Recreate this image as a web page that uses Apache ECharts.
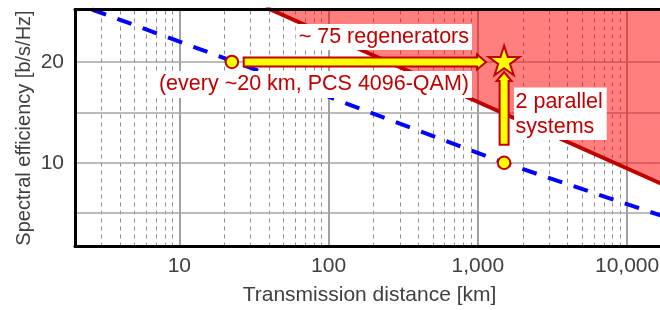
<!DOCTYPE html>
<html>
<head>
<meta charset="utf-8">
<script src="https://cdn.jsdelivr.net/npm/echarts@6.0.0/dist/echarts.min.js"></script>
<style>
  html, body { margin: 0; padding: 0; background: #fff; }
  #chart { width: 660px; height: 310px; }
</style>
</head>
<body>
<div id="chart"></div>
<script>
// distance axis (km, log) and spectral efficiency axis
var xMajor = [10, 100, 1000, 10000];
var xMinorMult = [2, 3, 4, 5, 6, 7, 8, 9];
var xDecades = [1, 10, 100, 1000];
var yGrid = [5, 10, 15, 20];
var yLabels = [10, 20];

// blue dashed capacity curve
var curveKm = [2.6, 22.5, 100, 1500, 20000];
var curveSE = [25.2, 20.1, 16.55, 10, 4.4];

// red boundary of shaded region
var boundKm = [38, 20000];
var boundSE = [25.4, 7.45];

// yellow markers
var dotKm = [22.5, 1500];
var dotSE = [20, 10];
var starKm = [1500];
var starSE = [20];

// arrows: [fromKm, fromSE, toKm, toSE]
var arrowFromKm = [27, 1500];
var arrowFromSE = [20, 11.8];
var arrowToKm = [1135, 1500];
var arrowToSE = [20, 19.0];

var FONT = '"Liberation Sans", Arial, sans-serif';
var DARKRED = '#c00000';

function pairs(a, b) {
  var out = [];
  for (var i = 0; i < a.length; i++) out.push([a[i], b[i]]);
  return out;
}

var gridLines = [];
for (var d = 0; d < xDecades.length; d++) {
  for (var m = 0; m < xMinorMult.length; m++) {
    gridLines.push({ xAxis: xDecades[d] * xMinorMult[m], lineStyle: { color: '#8c8c8c', width: 1, type: [4, 4] } });
  }
}
xMajor.forEach(function (v) {
  gridLines.push({ xAxis: v, lineStyle: { color: '#808080', width: 1.5, type: 'solid' } });
});
yGrid.forEach(function (v) {
  gridLines.push({ yAxis: v, lineStyle: { color: '#a6a6a6', width: 1.5, type: 'solid' } });
});

var arrows = [];
for (var i = 0; i < arrowFromKm.length; i++) {
  arrows.push([arrowFromKm[i], arrowFromSE[i], arrowToKm[i], arrowToSE[i]]);
}

function renderArrow(params, api) {
  var p1 = api.coord([api.value(0), api.value(1)]);
  var p2 = api.coord([api.value(2), api.value(3)]);
  var dx = p2[0] - p1[0], dy = p2[1] - p1[1];
  var len = Math.sqrt(dx * dx + dy * dy);
  var ux = dx / len, uy = dy / len, nx = -uy, ny = ux;
  var hw = 4.5, hh = 7.5, hl = 9;
  var b = len - hl;
  function pt(a, n) { return [p1[0] + ux * a + nx * n, p1[1] + uy * a + ny * n]; }
  return {
    type: 'polygon',
    shape: { points: [pt(0, -hw), pt(b, -hw), pt(b, -hh), pt(len, 0), pt(b, hh), pt(b, hw), pt(0, hw)] },
    style: { fill: '#ffff00', stroke: DARKRED, lineWidth: 2 }
  };
}

var starPath = 'path://M0,-100L22.45,-30.9L95.1,-30.9L36.33,11.8L58.8,80.9L0,38.2L-58.8,80.9L-36.33,11.8L-95.1,-30.9L-22.45,-30.9Z';

var myChart = echarts.init(document.getElementById('chart'));

var option = {
  animation: false,
  grid: { left: 75, right: -12, top: 9.5, bottom: 63.5, containLabel: false, outerBoundsMode: 'none' },
  xAxis: [
    {
      type: 'log', logBase: 10, min: 2, max: 20000, position: 'bottom', z: 10,
      axisLine: { show: true, lineStyle: { color: '#000', width: 3 } },
      axisTick: { show: false },
      splitLine: { show: false },
      axisLabel: {
        showMinLabel: false, showMaxLabel: false, margin: 9,
        color: '#404040', fontSize: 21, fontFamily: FONT,
        formatter: function (v) { return Math.round(v).toLocaleString('en-US'); }
      },
      name: 'Transmission distance [km]', nameLocation: 'middle', nameGap: 38,
      nameTextStyle: { color: '#404040', fontSize: 21, fontFamily: FONT, padding: [0, 8, 0, 0] }
    },
    {
      type: 'log', logBase: 10, min: 2, max: 20000, position: 'top', z: 10,
      axisLine: { show: true, lineStyle: { color: '#000', width: 3 } },
      axisTick: { show: false }, axisLabel: { show: false }, splitLine: { show: false }
    }
  ],
  yAxis: {
    type: 'value', min: 1.7, max: 25.2, z: 10,
    axisLine: { show: true, lineStyle: { color: '#000', width: 3 } },
    axisTick: { show: false, customValues: yLabels },
    splitLine: { show: false },
    axisLabel: { customValues: yLabels, margin: 11, color: '#404040', fontSize: 21, fontFamily: FONT },
    name: 'Spectral efficiency [b/s/Hz]', nameLocation: 'middle', nameGap: 41, nameMoveOverlap: false,
    nameTextStyle: { color: '#404040', fontSize: 20, fontFamily: FONT }
  },
  graphic: [
    { type: 'text', z: 4, x: 472, y: 37,
      style: { text: '~ 75 regenerators', fill: DARKRED, fontSize: 21.5, fontFamily: FONT,
               align: 'right', verticalAlign: 'middle', backgroundColor: '#fff', padding: [4, 3, 0, 3] } },
    { type: 'text', z: 4, x: 472, y: 84.5,
      style: { text: '(every ~20 km, PCS 4096-QAM)', fill: DARKRED, fontSize: 21.5, fontFamily: FONT,
               align: 'right', verticalAlign: 'middle', backgroundColor: '#fff', padding: [3, 3, 2, 5] } },
    { type: 'text', z: 4, x: 514, y: 87.5,
      style: { text: '2 parallel\nsystems', fill: DARKRED, fontSize: 21.5, fontFamily: FONT, lineHeight: 25,
               align: 'left', verticalAlign: 'top', backgroundColor: '#fff', padding: [2.5, 4, 0, 1.5] } }
  ],
  series: [
    {
      name: 'grid', type: 'line', z: 1, silent: true, symbol: 'none',
      data: [[2, 1.7]], lineStyle: { opacity: 0 },
      markLine: { silent: true, symbol: 'none', z: 1, label: { show: false }, animation: false, data: gridLines }
    },
    {
      name: 'boundary', type: 'line', z: 2, symbol: 'none', clip: true,
      data: pairs(boundKm, boundSE),
      lineStyle: { color: DARKRED, width: 4 },
      areaStyle: { color: 'rgba(255,0,0,0.5)', opacity: 1, origin: 'end' }
    },
    {
      name: 'curve', type: 'line', z: 3, symbol: 'none', clip: true,
      data: pairs(curveKm, curveSE),
      lineStyle: { color: '#0000ff', width: 4, type: [15, 12] }
    },
    {
      name: 'arrows', type: 'custom', z: 5, renderItem: renderArrow,
      encode: { x: [0, 2], y: [1, 3] }, data: arrows
    },
    {
      name: 'dots', type: 'scatter', z: 6, symbol: 'circle', symbolSize: 12.5,
      data: pairs(dotKm, dotSE),
      itemStyle: { color: '#ffff00', borderColor: DARKRED, borderWidth: 2, opacity: 1 }
    },
    {
      name: 'star', type: 'scatter', z: 6, symbol: starPath, symbolSize: [31, 29.5], symbolOffset: [0, -1.5],
      data: pairs(starKm, starSE),
      itemStyle: { color: '#ffff00', borderColor: DARKRED, borderWidth: 2, opacity: 1 }
    }
  ]
};

myChart.setOption(option);
</script>
</body>
</html>
